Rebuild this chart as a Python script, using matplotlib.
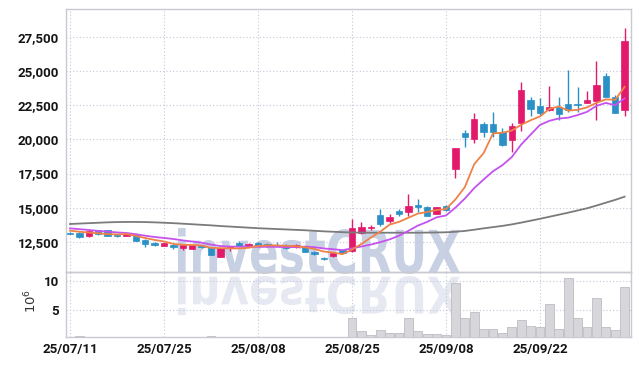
import matplotlib
matplotlib.use("Agg")
import matplotlib.pyplot as plt
from matplotlib.font_manager import FontProperties
from matplotlib.patches import PathPatch
from matplotlib.textpath import TextPath
from matplotlib.transforms import Affine2D

# daily candles, 25/07/11 .. end of window (trading-day index on x)
tick_labels = ["25/07/11", "25/07/25", "25/08/08", "25/08/25", "25/09/08", "25/09/22"]

opens = [13150, 13160, 12940, 13350, 13360, 13000, 12950, 12990, 12650, 12400,
         12210, 12260, 12010, 11970, 12210, 12060, 11400, 12010, 12430, 12170,
         12400, 12300, 12250, 12260, 12080, 12130, 11770, 11300, 11480, 11900,
         11820, 13160, 13480, 14460, 14040, 14780, 14680, 15200, 15070, 14530,
         15120, 17810, 20500, 20020, 21140, 21160, 20530, 19960, 21180, 22900,
         22460, 22120, 22410, 22600, 22580, 22700, 22850, 24660, 23100, 22120]
highs = [13200, 13200, 13390, 13380, 13380, 13050, 13100, 13050, 12700, 12450,
         12430, 12300, 12280, 12280, 12250, 12100, 12050, 12200, 12550, 12420,
         12450, 12420, 12500, 12300, 12300, 12160, 11800, 11400, 11780, 11950,
         14200, 13970, 13700, 14880, 14510, 14880, 16000, 15600, 15100, 15070,
         15200, 19400, 20700, 21920, 21310, 22000, 20820, 21180, 24240, 23140,
         23070, 23950, 23100, 25100, 23840, 23520, 25720, 24860, 23250, 28160]
lows = [13050, 12750, 12850, 13000, 12900, 12850, 12900, 12550, 12100, 12150,
        12200, 11980, 11900, 11950, 12050, 11500, 11380, 11850, 12180, 12150,
        12150, 12130, 12150, 11980, 12050, 11760, 11550, 11150, 11400, 11650,
        11750, 13040, 13330, 13650, 13890, 14390, 14390, 14700, 14350, 14500,
        14780, 17150, 19480, 19770, 20200, 20150, 19550, 19110, 20650, 21680,
        21800, 22050, 21430, 22000, 22040, 22650, 21430, 23100, 21950, 21680]
closes = [13100, 12870, 13300, 13080, 12950, 12950, 13050, 12570, 12330, 12250,
          12400, 12130, 12260, 12260, 12100, 11520, 12010, 12180, 12210, 12350,
          12200, 12200, 12200, 12030, 12250, 11780, 11580, 11250, 11650, 11680,
          13500, 13600, 13580, 13800, 14290, 14510, 15120, 15080, 14400, 15020,
          14830, 19360, 20200, 21510, 20570, 20570, 19600, 20990, 23630, 22240,
          21970, 22360, 21870, 22120, 22510, 22900, 24000, 23140, 21970, 27250]
# volume, millions of shares
volumes = [0.05, 0.45, 0.05, 0.05, 0.05, 0.05, 0.05, 0.05, 0.05, 0.05,
           0.05, 0.05, 0.05, 0.05, 0.05, 0.45, 0.05, 0.05, 0.05, 0.05,
           0.05, 0.05, 0.05, 0.05, 0.05, 0.05, 0.05, 0.05, 0.05, 0.05,
           3.56, 1.38, 0.63, 1.50, 1.03, 1.03, 3.56, 1.38, 0.86, 0.86,
           0.63, 9.60, 3.56, 4.60, 1.67, 1.67, 1.03, 2.00, 3.28, 2.24,
           2.00, 6.03, 1.67, 10.50, 3.56, 2.00, 7.07, 2.00, 1.50, 8.90]

# moving averages
ma5 = [13310, 13230, 13170, 13120, 13060, 13030, 13066, 12920, 12770, 12630,
       12520, 12336, 12274, 12260, 12230, 12054, 12030, 12014, 12004, 12054,
       12190, 12228, 12232, 12196, 12176, 12092, 11968, 11778, 11702, 11588,
       11932, 12336, 12802, 13232, 13754, 13956, 14260, 14560, 14680, 14826,
       14890, 15600, 16500, 18184, 19000, 20442, 20490, 20648, 21072, 21406,
       21686, 22238, 22414, 22112, 22166, 22352, 22680, 22934, 22904, 23852]
ma10 = [13480, 13420, 13360, 13290, 13240, 13180, 13140, 13050, 12940, 12845,
        12775, 12701, 12597, 12515, 12430, 12287, 12183, 12144, 12132, 12142,
        12122, 12129, 12123, 12100, 12115, 12141, 12098, 12005, 11949, 11882,
        12012, 12152, 12290, 12467, 12671, 12944, 13298, 13681, 13956, 14290,
        14423, 14999, 15661, 16432, 17060, 17666, 18114, 18705, 19628, 20350,
        21064, 21364, 21531, 21592, 21786, 22019, 22459, 22674, 22508, 23009]
ma_long = [13800, 13830, 13860, 13890, 13920, 13940, 13950, 13950, 13940, 13920,
           13890, 13860, 13820, 13780, 13740, 13700, 13650, 13610, 13570, 13530,
           13490, 13460, 13430, 13400, 13370, 13340, 13300, 13260, 13230, 13200,
           13180, 13170, 13160, 13160, 13160, 13160, 13160, 13160, 13170, 13180,
           13190, 13230, 13290, 13380, 13480, 13570, 13660, 13770, 13900, 14040,
           14180, 14330, 14480, 14630, 14790, 14950, 15150, 15360, 15570, 15800]

UP = "#e3196c"
DOWN = "#2b90c6"
GRID = "#c3c7d8"
SPINE = "#c9c9d2"
TXT = "#141414"

W, H = 639, 366
fig = plt.figure(figsize=(W / 100, H / 100), dpi=100)
fig.patch.set_facecolor("white")

left, right = 66 / W, 631 / W
ax = fig.add_axes([left, 1 - 272 / H, right - left, (272 - 9) / H])
axv = fig.add_axes([left, 1 - 337 / H, right - left, (337 - 272) / H], sharex=ax)

# watermark with its reflection, behind both panels
prop = FontProperties(family="DejaVu Sans", weight="bold")
tp = TextPath((0, 0), "investCRUX", size=100, prop=prop)
ext = tp.get_extents()
sx = (460 - 178) / ext.width
sy = (274 - 228) / ext.height
main_tf = Affine2D().translate(-ext.x0, -ext.y0).scale(sx, sy).translate(178, H - 274)
refl_tf = Affine2D().translate(-ext.x0, -ext.y0).scale(sx, -sy * 0.85).translate(178, H - 276)
fig.add_artist(PathPatch(tp, transform=main_tf, facecolor="#c8d0e3", edgecolor="none", zorder=-2))
fig.add_artist(PathPatch(tp, transform=refl_tf, facecolor="#e6e9f1", edgecolor="none", zorder=-2))

x = list(range(len(closes)))
colors = [UP if c >= o else DOWN for o, c in zip(opens, closes)]
bodies = [max(abs(c - o), 60) for o, c in zip(opens, closes)]
bottoms = [min(o, c) for o, c in zip(opens, closes)]

ax.vlines(x, lows, highs, colors=colors, linewidth=1.0, zorder=3)
ax.bar(x, bodies, bottom=bottoms, width=0.68, color=colors, edgecolor=colors,
       linewidth=0.5, zorder=4)
ax.plot(x, ma_long, color="#7b7b7b", linewidth=1.3, zorder=5)
ax.plot(x, ma10, color="#c552ee", linewidth=1.3, zorder=5)
ax.plot(x, ma5, color="#ef8246", linewidth=1.3, zorder=6)

axv.bar(x, volumes, width=0.92, color="#d7d7db", edgecolor="#bdbdc2",
        linewidth=0.6, zorder=3)

ax.set_xlim(-0.43, 59.68)
ax.set_ylim(10280, 29560)
axv.set_ylim(0.34, 11.55)

ax.set_yticks([12500, 15000, 17500, 20000, 22500, 25000, 27500])
ax.set_yticklabels(["12,500", "15,000", "17,500", "20,000", "22,500", "25,000", "27,500"])
axv.set_yticks([5, 10])
axv.set_yticklabels(["5", "10"])
axv.set_xticks(range(0, 60, 10))
axv.set_xticklabels(tick_labels)
plt.setp(ax.get_xticklabels(), visible=False)

for a in (ax, axv):
    a.set_facecolor("none")
    a.grid(True, color=GRID, linestyle=(0, (1, 2)), linewidth=0.8)
    a.set_axisbelow(True)
    a.tick_params(length=0, pad=5, labelsize=9.5, labelcolor=TXT)
    for s in a.spines.values():
        s.set_color(SPINE)
        s.set_linewidth(1.0)
    for lab in a.get_yticklabels() + a.get_xticklabels():
        lab.set_fontfamily("Roboto")
        lab.set_fontweight("bold")
axv.tick_params(axis="x", pad=4)

fig.text(31 / W, 1 - 301 / H, r"$10^6$", rotation=90, ha="center", va="center",
         fontsize=9.5, color="#333333")

fig.savefig("out.png", dpi=100)
